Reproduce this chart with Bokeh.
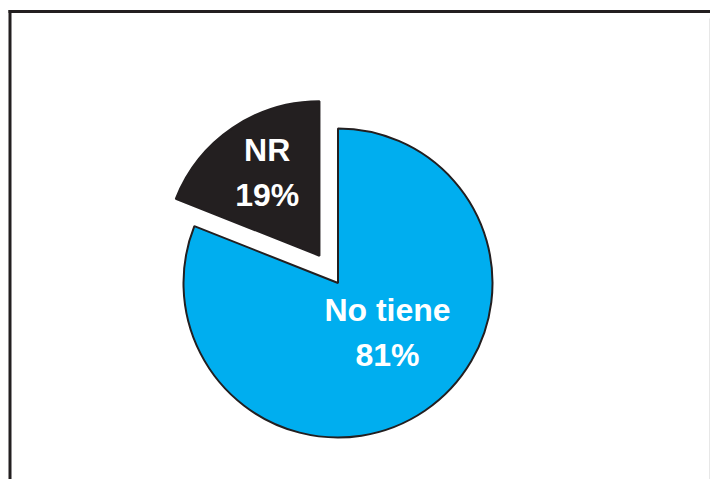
import numpy as np
from bokeh.plotting import figure
from bokeh.models import Range1d, ColumnDataSource
from bokeh.core.properties import value
from bokeh.embed import file_html
from bokeh.resources import INLINE

# ---- data ----
categories = ["No tiene", "NR"]
values = [81, 19]
pct_labels = ["81%", "19%"]
colors = ["#00AEEF", "#231F20"]

# ---- style / layout ----
W, H = 710, 479
CX, CY, R = 337.5, 196.5, 154.5
explode = [0.0, 33.0]
label_r = [70.0, 98.0]
label_dang = [10.8, -2.0]
line_gap = 22.5
FONT = "Liberation Sans"

p = figure(width=W, height=H, output_backend="svg", toolbar_location=None,
           x_range=Range1d(0, W), y_range=Range1d(0, H),
           x_axis_type=None, y_axis_type=None, min_border=0,
           outline_line_color=None, background_fill_color="white",
           border_fill_color="white")
p.grid.visible = False

vals = np.array(values, dtype=float)
frac = vals / vals.sum()
cum = np.concatenate([[0.0], np.cumsum(frac)])
# clockwise from 12 o'clock
start_deg = 90.0 - cum[1:] * 360.0
end_deg = 90.0 - cum[:-1] * 360.0
mid_deg = (start_deg + end_deg) / 2.0

xs = CX + np.array(explode) * np.cos(np.radians(mid_deg))
ys = CY + np.array(explode) * np.sin(np.radians(mid_deg))

src = ColumnDataSource(dict(x=xs, y=ys, start=np.radians(start_deg), end=np.radians(end_deg),
                            color=colors, cat=categories))
p.wedge(x="x", y="y", radius=R, start_angle="start", end_angle="end",
        fill_color="color", line_color="#231F20", line_width=2, source=src)

la = np.radians(mid_deg + np.array(label_dang))
lx = xs + np.array(label_r) * np.cos(la)
ly = ys + np.array(label_r) * np.sin(la)

p.text(x=lx, y=ly + line_gap, text=categories, text_color="white",
       text_font=value(FONT), text_font_style="bold", text_font_size="32px",
       text_align="center", text_baseline="middle")
p.text(x=lx, y=ly - line_gap, text=pct_labels, text_color="white",
       text_font=value(FONT), text_font_style="bold", text_font_size="32px",
       text_align="center", text_baseline="middle")

# frame decoration (outer border of the original chart)
p.segment(x0=[8, 9.5], y0=[468, 469.5], x1=[W, 9.5], y1=[468, -2],
          line_color="#231F20", line_width=3)
p.segment(x0=[709.5], y0=[461], x1=[709.5], y1=[-2],
          line_color="#CFCFCF", line_width=1)

open("out.html", "w").write(file_html(p, INLINE))
